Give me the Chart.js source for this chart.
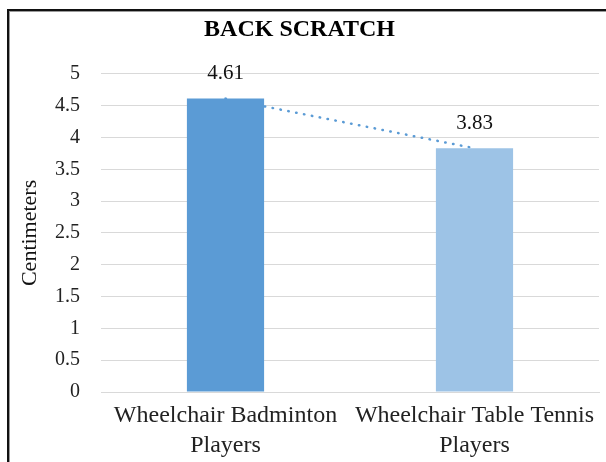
<!DOCTYPE html>
<html>
<head>
<meta charset="utf-8">
<script src="https://cdn.jsdelivr.net/npm/chart.js@4.4.1/dist/chart.umd.min.js"></script>
<style>
  html, body { margin: 0; padding: 0; background: #fff; }
  #wrap { position: relative; width: 606px; height: 462px; overflow: hidden; }
  #frame {
    position: absolute; left: 7px; top: 9px; width: 700px; height: 600px;
    border-left: 2px solid #111; border-top: 2px solid #111;
    box-shadow: inset 1px 1px 0 #9a9a9a;
  }
  canvas { position: absolute; left: 0; top: 0; }
</style>
</head>
<body>
<div id="wrap">
  <div id="frame"></div>
  <canvas id="chart" width="606" height="462"></canvas>
</div>
<script>
const categories = [["Wheelchair Badminton", "Players"], ["Wheelchair Table Tennis", "Players"]];
const backScratch = [4.61, 3.83];
const barColors = ["#5B9BD5", "#9DC3E6"];
const yTicks = [0, 0.5, 1, 1.5, 2, 2.5, 3, 3.5, 4, 4.5, 5];

const serif = "'Liberation Serif', 'Times New Roman', serif";

// value labels above the bars
const barLabels = {
  id: "barLabels",
  afterDatasetsDraw(chart) {
    const ctx = chart.ctx;
    const meta = chart.getDatasetMeta(0);
    ctx.save();
    ctx.font = "21px " + serif;
    ctx.fillStyle = "#111";
    ctx.textAlign = "center";
    ctx.textBaseline = "middle";
    meta.data.forEach(function (bar, i) {
      ctx.fillText(backScratch[i].toFixed(2), bar.x, bar.y - 25);
    });
    ctx.restore();
  }
};

new Chart(document.getElementById("chart"), {
  data: {
    labels: categories,
    datasets: [
      {
        type: "bar",
        data: backScratch,
        backgroundColor: barColors,
        borderWidth: 0,
        barPercentage: 0.31,
        categoryPercentage: 1,
        order: 0
      },
      {
        type: "line",
        data: backScratch,
        borderColor: "#5B9BD5",
        borderWidth: 2.5,
        borderDash: [0.5, 7.5],
        borderCapStyle: "round",
        pointRadius: 0,
        fill: false,
        order: 1
      }
    ]
  },
  options: {
    responsive: false,
    animation: false,
    layout: { padding: { left: 0, right: 7, top: 0, bottom: 0 } },
    plugins: {
      legend: { display: false },
      tooltip: { enabled: false },
      title: {
        display: true,
        text: "BACK SCRATCH",
        color: "#000",
        font: { family: serif, size: 24, weight: "bold", lineHeight: 1.2 },
        padding: { top: 15, bottom: 30 }
      }
    },
    scales: {
      x: {
        grid: { display: false, drawTicks: false },
        border: { display: true, color: "#d9d9d9", width: 1 },
        ticks: {
          color: "#222",
          font: { family: serif, size: 24, lineHeight: 1.25 },
          padding: 9,
          maxRotation: 0,
          autoSkip: false
        },
        afterFit(scale) { scale.height = 70; }
      },
      y: {
        min: 0,
        max: 5,
        afterBuildTicks(scale) {
          scale.ticks = yTicks.map(function (v) { return { value: v }; });
        },
        grid: { color: "#d9d9d9", drawTicks: false },
        border: { display: false },
        ticks: {
          color: "#222",
          font: { family: serif, size: 20 },
          padding: 21,
          callback: function (value) { return String(value); }
        },
        title: {
          display: true,
          text: "Centimeters",
          color: "#111",
          font: { family: serif, size: 22 },
          padding: { top: 17, bottom: 0 }
        },
        afterFit(scale) { scale.width = 101; }
      }
    }
  },
  plugins: [barLabels]
});
</script>
</body>
</html>
